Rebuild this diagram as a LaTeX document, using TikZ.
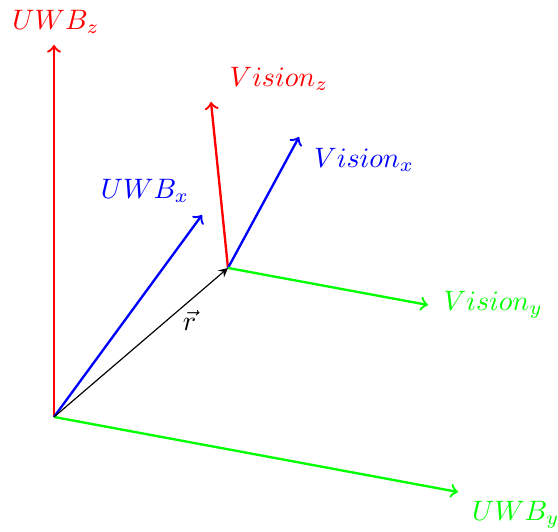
\documentclass[tikz,border=0pt]{standalone}
\begin{document}
\begin{tikzpicture}[axis/.style={thick,->}, lbl/.style={scale=0.96}]
\useasboundingbox (0,0) rectangle (6.696,6.384);
\coordinate (uwb) at (0.648,1.38);
\coordinate (vis) at (2.736,3.168);
\coordinate (uwbzend) at (0.648,5.844);
\coordinate (uwbxend) at (2.424,3.804);
\coordinate (uwbyend) at (5.496,0.48);
\coordinate (viszend) at (2.532,5.16);
\coordinate (visxend) at (3.588,4.74);
\coordinate (visyend) at (5.136,2.724);
\node[lbl, red] (uwbz) at (0.672,6.12) {$UWB_z$};
\node[lbl, blue] (uwbx) at (1.74,4.092) {$UWB_x$};
\node[lbl, green] (uwby) at (6.19,0.204) {$UWB_y$};
\node[lbl, red] (visz) at (3.348,5.436) {$Vision_z$};
\node[lbl, blue] (visx) at (4.37,4.464) {$Vision_x$};
\node[lbl, green] (visy) at (5.92,2.724) {$Vision_y$};
\draw[axis, red] (uwb) -- (uwbzend);
\draw[axis, blue] (uwb) -- (uwbxend);
\draw[axis, green] (uwb) -- (uwbyend);
\draw[-stealth] (uwb) -- (vis) node[lbl, pos=0.78, below] (r) {$\vec{r}$};
\draw[axis, red] (vis) -- (viszend);
\draw[axis, blue] (vis) -- (visxend);
\draw[axis, green] (vis) -- (visyend);
\end{tikzpicture}
\end{document}
